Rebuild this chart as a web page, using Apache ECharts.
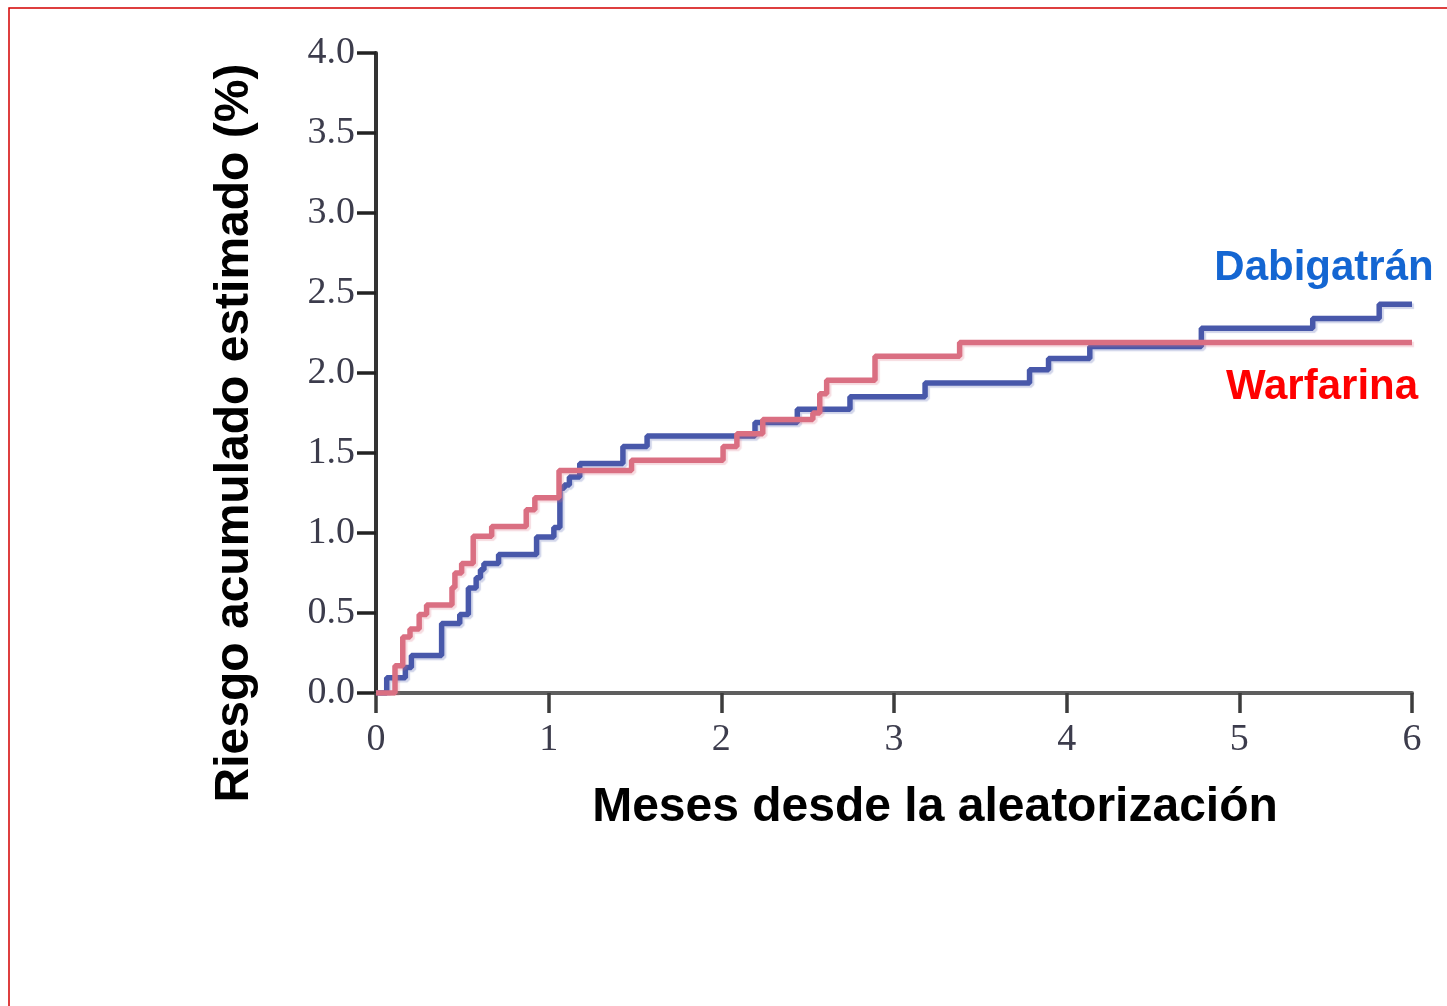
<!DOCTYPE html>
<html>
<head>
<meta charset="utf-8">
<title>Riesgo acumulado estimado</title>
<script src="https://cdn.jsdelivr.net/npm/echarts@6/dist/echarts.min.js"></script>
<style>
  html, body { margin: 0; padding: 0; background: #ffffff; }
  #chart { width: 1447px; height: 1006px; }
</style>
</head>
<body>
<div id="chart"></div>
<script>
// Kaplan-Meier style cumulative risk curves (step changes: month, new risk %)
const dabigatranMonths = [0, 0.062, 0.17, 0.205, 0.38, 0.485, 0.535, 0.58, 0.605, 0.625, 0.71, 0.93, 1.03, 1.065, 1.09, 1.12, 1.18, 1.43, 1.57, 2.195, 2.44, 2.745, 3.18, 3.785, 3.895, 4.134, 4.78, 5.425, 5.81, 6.0];
const dabigatranRisk   = [0, 0.095, 0.16, 0.235, 0.435, 0.49, 0.656, 0.72, 0.77, 0.81, 0.865, 0.975, 1.035, 1.28, 1.30, 1.35, 1.435, 1.54, 1.607, 1.69, 1.773, 1.852, 1.937, 2.02, 2.09, 2.165, 2.28, 2.34, 2.43, 2.43];

const warfarinaMonths = [0, 0.11, 0.155, 0.197, 0.25, 0.293, 0.44, 0.457, 0.496, 0.563, 0.67, 0.87, 0.92, 1.06, 1.48, 2.01, 2.09, 2.24, 2.53, 2.57, 2.61, 2.89, 3.38, 6.0];
const warfarinaRisk   = [0, 0.17, 0.35, 0.40, 0.49, 0.55, 0.66, 0.75, 0.81, 0.98, 1.04, 1.145, 1.22, 1.39, 1.455, 1.54, 1.62, 1.71, 1.75, 1.87, 1.955, 2.105, 2.19, 2.19];

// Axis ranges and tick labels
const monthTicks = [0, 1, 2, 3, 4, 5, 6];
const riskTicks  = ['0.0', '0.5', '1.0', '1.5', '2.0', '2.5', '3.0', '3.5', '4.0'];

const seriesNames = ['Dabigatrán', 'Warfarina'];
const xTitle = 'Meses desde la aleatorización';
const yTitle = 'Riesgo acumulado estimado (%)';

const pairs = (xs, ys) => xs.map((x, i) => [x, ys[i]]);

const chart = echarts.init(document.getElementById('chart'), null, { renderer: 'canvas' });

const tickFont = '"Liberation Serif", "DejaVu Serif", serif';
const titleFont = '"Liberation Sans", Arial, sans-serif';

chart.setOption({
  animation: false,
  backgroundColor: '#ffffff',
  grid: { left: 376, top: 53, width: 1036, height: 640, containLabel: false },
  xAxis: {
    type: 'value',
    min: monthTicks[0],
    max: monthTicks[monthTicks.length - 1],
    interval: 1,
    splitLine: { show: false },
    axisLine: { show: true, lineStyle: { color: '#5e5e5e', width: 4 } },
    axisTick: { show: true, inside: false, length: 20, lineStyle: { color: '#3c3c3c', width: 3.5 } },
    axisLabel: {
      margin: 28,
      fontFamily: tickFont,
      fontSize: 38,
      color: '#3c3c4c',
      formatter: v => String(monthTicks[Math.round(v)])
    }
  },
  yAxis: {
    type: 'value',
    min: 0,
    max: 4,
    interval: 0.5,
    splitLine: { show: false },
    axisLine: { show: true, lineStyle: { color: '#333333', width: 4 } },
    axisTick: { show: true, inside: false, length: 19, lineStyle: { color: '#222222', width: 3.5 } },
    axisLabel: {
      margin: 21,
      fontFamily: tickFont,
      fontSize: 38,
      color: '#3c3c4c',
      formatter: v => riskTicks[Math.round(v * 2)]
    }
  },
  series: [
    {
      name: seriesNames[0],
      type: 'line',
      step: 'end',
      symbol: 'none',
      data: pairs(dabigatranMonths, dabigatranRisk),
      lineStyle: {
        color: '#4858aa', width: 5.5,
        shadowColor: 'rgba(72,88,170,0.25)', shadowOffsetX: 2, shadowOffsetY: 2, shadowBlur: 1
      },
      z: 2
    },
    {
      name: seriesNames[1],
      type: 'line',
      step: 'end',
      symbol: 'none',
      data: pairs(warfarinaMonths, warfarinaRisk),
      lineStyle: {
        color: '#da6f82', width: 5.5,
        shadowColor: 'rgba(218,111,130,0.25)', shadowOffsetX: 2, shadowOffsetY: 2, shadowBlur: 1
      },
      z: 3
    }
  ],
  graphic: [
    {
      type: 'rect',
      silent: true,
      shape: { x: 9, y: 8, width: 1460, height: 1030 },
      style: { fill: 'none', stroke: '#d40000', lineWidth: 1.5 }
    },
    {
      type: 'text',
      x: 235, y: 433,
      rotation: Math.PI / 2,
      style: {
        text: yTitle,
        font: 'bold 48px ' + titleFont,
        fill: '#000000',
        textAlign: 'center',
        textVerticalAlign: 'middle'
      }
    },
    {
      type: 'text',
      x: 935, y: 808,
      style: {
        text: xTitle,
        font: 'bold 48px ' + titleFont,
        fill: '#000000',
        textAlign: 'center',
        textVerticalAlign: 'middle'
      }
    },
    {
      type: 'text',
      x: 1324, y: 268,
      style: {
        text: seriesNames[0],
        font: 'bold 42px ' + titleFont,
        fill: '#1466d2',
        textAlign: 'center',
        textVerticalAlign: 'middle'
      }
    },
    {
      type: 'text',
      x: 1322, y: 387,
      style: {
        text: seriesNames[1],
        font: 'bold 42px ' + titleFont,
        fill: '#ff0000',
        textAlign: 'center',
        textVerticalAlign: 'middle'
      }
    }
  ]
});
</script>
</body>
</html>
